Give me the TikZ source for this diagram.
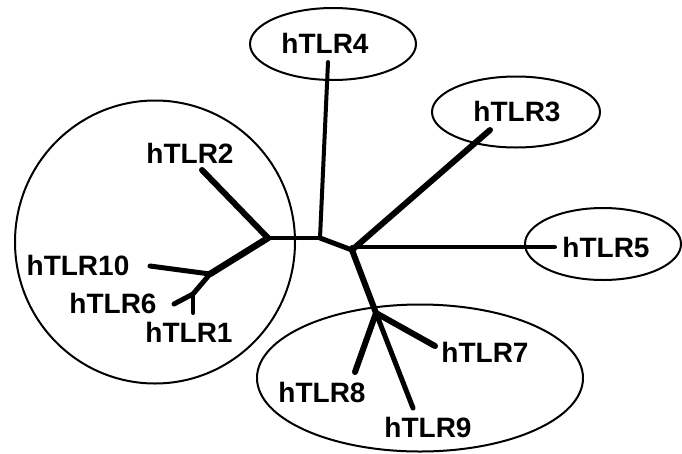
\documentclass[tikz,border=0pt]{standalone}
\usepackage{fontspec}
\setmainfont{Liberation Sans}
\usetikzlibrary{shapes.geometric}
\begin{document}
\begin{tikzpicture}[x=1pt,y=-1pt,
  lab/.style={font=\fontsize{28}{30}\selectfont\bfseries, inner sep=0pt},
  grp/.style={draw, line width=2pt, ellipse, inner sep=0pt},
  br/.style={line width=#1, line cap=round, line join=round},
  br/.default=5pt]
\useasboundingbox (0,0) rectangle (682,453);
% group outlines
\node[grp, minimum width=280pt, minimum height=283pt] (g1) at (155,242) {};
\node[grp, minimum width=166pt, minimum height=72pt] (g4) at (333,44) {};
\node[grp, minimum width=168pt, minimum height=71pt] (g3) at (516,112) {};
\node[grp, minimum width=156pt, minimum height=72pt] (g5) at (603,244) {};
\node[grp, minimum width=326pt, minimum height=147pt] (g7) at (420,378) {};
% internal nodes
\coordinate (A) at (268,238);
\coordinate (B) at (210,274);
\coordinate (C) at (193,294);
\coordinate (D) at (320,238);
\coordinate (E) at (352,250);
\coordinate (F) at (376,313);
% leaf ends
\coordinate (t2) at (202,170);
\coordinate (t10) at (150,266);
\coordinate (t6) at (174,304);
\coordinate (t1) at (193,313);
\coordinate (t4) at (328,62);
\coordinate (t3) at (490,130);
\coordinate (t5) at (555,247);
\coordinate (t7) at (435,346);
\coordinate (t8) at (355,372);
\coordinate (t9) at (413,408);
% branches
\draw[br=6pt] (A) -- (t2);
\draw[br=6.5pt] (A) -- (B);
\draw[br=5pt] (B) -- (t10);
\draw[br=5pt] (B) -- (C);
\draw[br=5pt] (C) -- (t6);
\draw[br=4pt] (C) -- (t1);
\draw[br=4.5pt] (A) -- (D);
\draw[br=4pt] (D) -- (t4);
\draw[br=5pt] (D) -- (E);
\draw[br=6pt] (E) -- (t3);
\draw[br=4pt] (E |- t5) -- (t5);
\draw[br=6pt] (E) -- (F);
\draw[br=6pt] (F) -- (t7);
\draw[br=6pt] (F) -- (t8);
\draw[br=5pt] (F) -- (t9);
% labels
\node[lab] (l2) at (190,153) {hTLR2};
\node[lab] (l10) at (78,265) {hTLR10};
\node[lab] (l6) at (113,303) {hTLR6};
\node[lab] (l1) at (189,332) {hTLR1};
\node[lab] (l4) at (325,43) {hTLR4};
\node[lab] (l3) at (517,112) {hTLR3};
\node[lab] (l5) at (606,247) {hTLR5};
\node[lab] (l7) at (485,352) {hTLR7};
\node[lab] (l8) at (322,392) {hTLR8};
\node[lab] (l9) at (428,427) {hTLR9};
\end{tikzpicture}
\end{document}
